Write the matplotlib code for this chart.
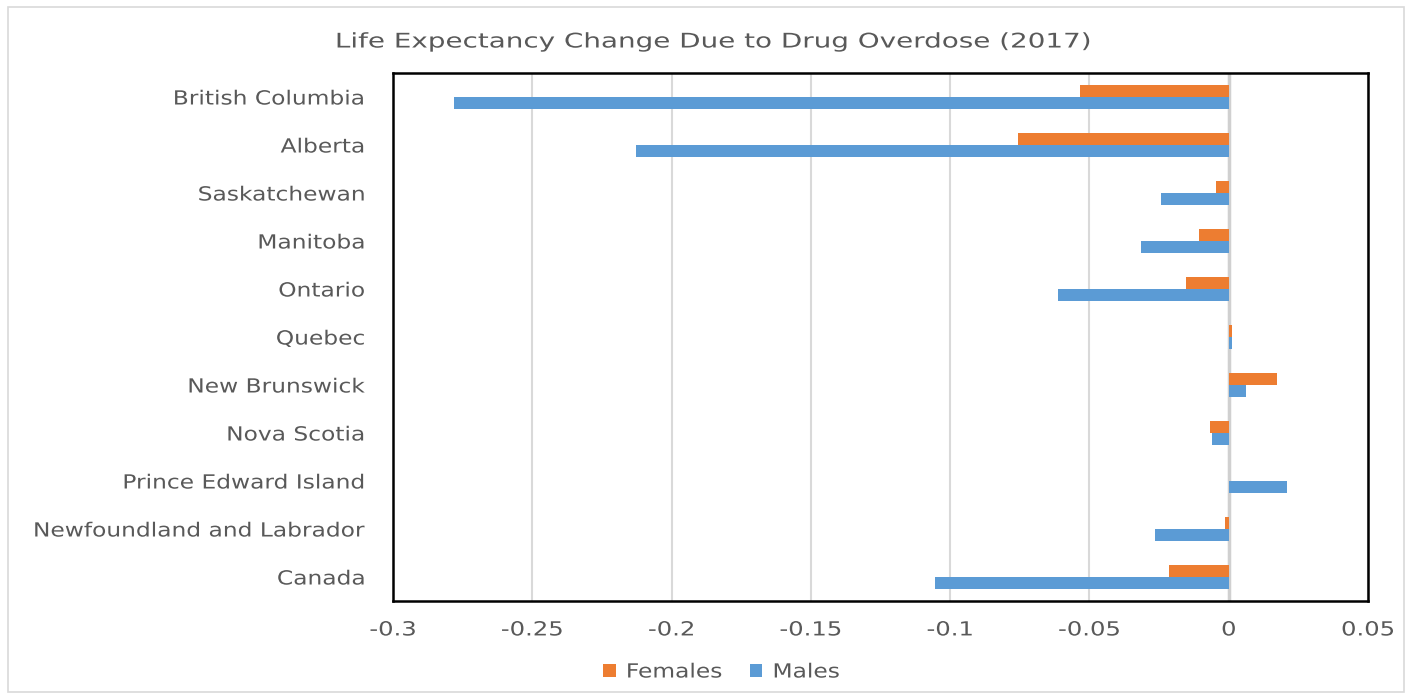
import numpy as np
import matplotlib.pyplot as plt
from matplotlib.patches import Rectangle
from matplotlib.patheffects import AbstractPathEffect
from matplotlib.transforms import Affine2D

plt.rcParams['font.family'] = ['DejaVu Sans']

regions = ["British Columbia", "Alberta", "Saskatchewan", "Manitoba", "Ontario",
           "Quebec", "New Brunswick", "Nova Scotia", "Prince Edward Island",
           "Newfoundland and Labrador", "Canada"]
females = [-0.0535, -0.0758, -0.0047, -0.0108, -0.0155, 0.001, 0.0172,
           -0.0068, 0.0, -0.0015, -0.0216]
males = [-0.278, -0.2127, -0.0244, -0.0316, -0.0614, 0.001, 0.0062,
         -0.006, 0.021, -0.0266, -0.1056]
xticks = [-0.3, -0.25, -0.2, -0.15, -0.1, -0.05, 0, 0.05]
xtick_labels = ["-0.3", "-0.25", "-0.2", "-0.15", "-0.1", "-0.05", "0", "0.05"]

orange = "#ED7D31"
blue = "#5B9BD5"
gray_text = "#595959"


class WideText(AbstractPathEffect):
    """Stretch a text's glyphs sideways, keeping one edge (or the centre) fixed."""

    def __init__(self, sx, anchor="center"):
        super().__init__()
        self.sx = sx
        self.anchor = anchor

    def draw_path(self, renderer, gc, tpath, affine, rgbFace=None):
        ext = tpath.get_extents(affine)
        x0 = {"left": ext.x0, "right": ext.x1, "center": 0.5 * (ext.x0 + ext.x1)}[self.anchor]
        stretch = Affine2D().translate(-x0, 0).scale(self.sx, 1).translate(x0, 0)
        renderer.draw_path(gc, tpath, affine + stretch, rgbFace)


fig = plt.figure(figsize=(14.1, 6.98), dpi=100)
ax = fig.add_axes([393 / 1410, 1 - 601 / 698, 975 / 1410, 528 / 698])

# first region at the top
y = np.arange(len(regions))[::-1]
h = 0.26
ax.barh(y + h / 2, females, height=h, color=orange, label="Females", zorder=3)
ax.barh(y - h / 2, males, height=h, color=blue, label="Males", zorder=3)

ax.set_xlim(-0.3, 0.05)
ax.set_ylim(-0.5, 10.5)
ax.set_xticks(xticks)
ax.set_xticklabels(xtick_labels)
ax.set_yticks(y)
ax.set_yticklabels(regions)
ax.tick_params(axis='both', length=0, labelsize=14, colors=gray_text)
ax.tick_params(axis='x', pad=14)
ax.tick_params(axis='y', pad=20)
for lbl in ax.get_yticklabels():
    lbl.set_path_effects([WideText(1.2, "right")])
for lbl in ax.get_xticklabels():
    lbl.set_path_effects([WideText(1.25, "center")])

ax.grid(axis='x', color="#D9D9D9", linewidth=1.5, zorder=0)
ax.axvline(0, color="#D0D0D0", linewidth=2.5, zorder=2)
for s in ax.spines.values():
    s.set_color("black")
    s.set_linewidth(1.8)

fig.text(714 / 1410, 1 - 42 / 698, "Life Expectancy Change Due to Drug Overdose (2017)",
         fontsize=14.5, color=gray_text, ha='center', va='center',
         path_effects=[WideText(1.38, "center")])

leg = fig.legend(loc='center', bbox_to_anchor=(716 / 1410, 1 - 672 / 698), ncol=2,
                 frameon=False, fontsize=14, labelcolor=gray_text, handlelength=0.65,
                 handleheight=0.65, handletextpad=0.55, columnspacing=2.2)
for t in leg.get_texts():
    t.set_path_effects([WideText(1.2, "left")])

# light outer border of the chart area
fig.add_artist(Rectangle((8 / 1410, 1 - 692 / 698), 1396 / 1410, 685 / 698,
                         transform=fig.transFigure, fill=False,
                         edgecolor="#D9D9D9", linewidth=1.2))

fig.savefig("out.png", dpi=100)
